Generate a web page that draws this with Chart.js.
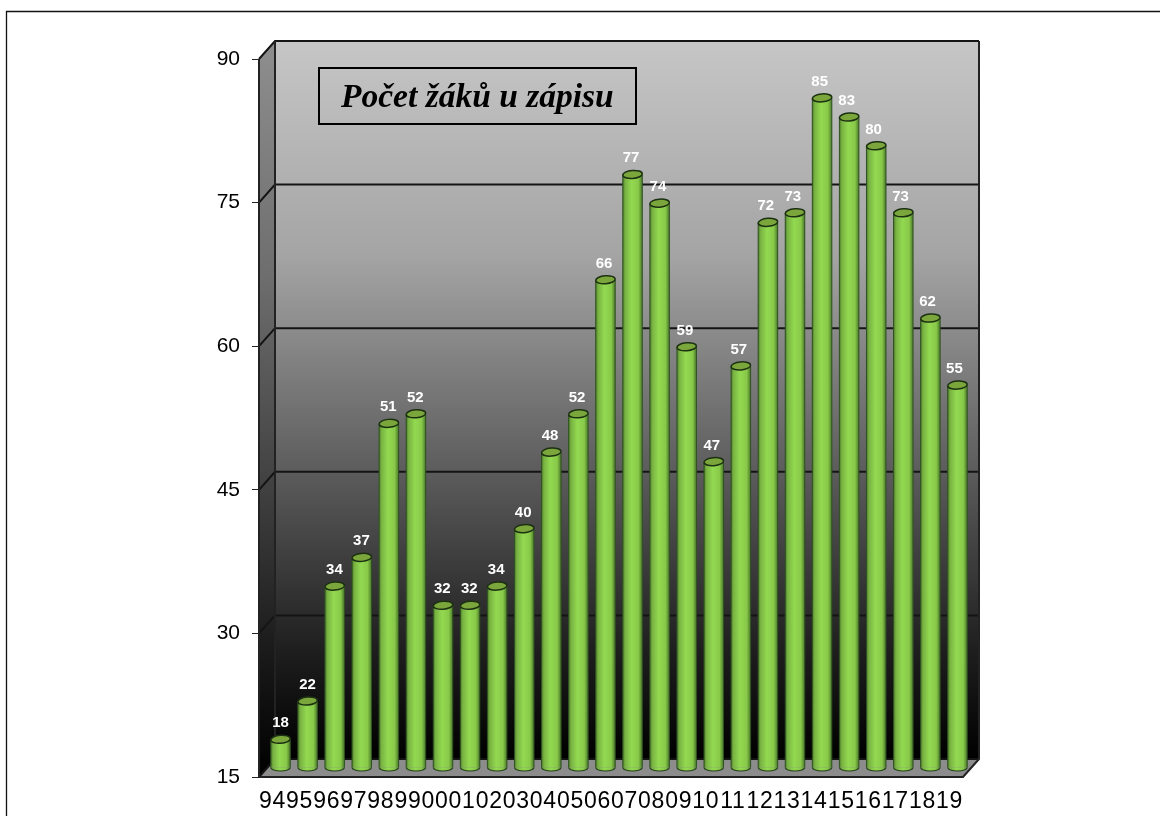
<!DOCTYPE html>
<html>
<head>
<meta charset="utf-8">
<title>Počet žáků u zápisu</title>
<script src="https://cdn.jsdelivr.net/npm/chart.js@4"></script>
<style>
html, body { margin: 0; padding: 0; background: #fff; }
canvas { display: block; }
</style>
</head>
<body>
<canvas id="chart" width="1160" height="816"></canvas>
<script>
const TITLE = 'Počet žáků u zápisu';
const YEARS = ['94', '95', '96', '97', '98', '99', '00', '01', '02', '03', '04', '05', '06',
               '07', '08', '09', '10', '11', '12', '13', '14', '15', '16', '17', '18', '19'];
const PUPILS = [18, 22, 34, 37, 51, 52, 32, 32, 34, 40, 48, 52, 66,
                77, 74, 59, 47, 57, 72, 73, 85, 83, 80, 73, 62, 55];
const Y_MIN = 15;
const Y_MAX = 90;
const Y_STEP = 15;

// hloubka 3D efektu
const DEPTH_X = 16;
const DEPTH_Y = 18;

function barGradient(ctx, x0, x1) {
    const g = ctx.createLinearGradient(x0, 0, x1, 0);
    g.addColorStop(0, '#4c7a2a');
    g.addColorStop(0.12, '#78b242');
    g.addColorStop(0.45, '#93d950');
    g.addColorStop(0.8, '#88c949');
    g.addColorStop(1, '#4a7829');
    return g;
}

const backdrop = {
    id: 'backdrop',
    beforeDatasetsDraw(chart) {
        const { ctx, chartArea: a, scales: { y } } = chart;
        const dx = DEPTH_X, dy = DEPTH_Y;
        ctx.save();

        // ramecek
        ctx.strokeStyle = '#111';
        ctx.lineWidth = 1.3;
        ctx.beginPath();
        ctx.moveTo(6.5, 816);
        ctx.lineTo(6.5, 11.5);
        ctx.lineTo(1160, 11.5);
        ctx.stroke();

        // zadni stena
        const wall = ctx.createLinearGradient(0, a.top - dy, 0, a.bottom - dy);
        wall.addColorStop(0, '#c6c6c6');
        wall.addColorStop(0.3, '#a4a4a4');
        wall.addColorStop(0.6, '#5c5c5c');
        wall.addColorStop(0.85, '#1e1e1e');
        wall.addColorStop(1, '#000');
        ctx.fillStyle = wall;
        ctx.fillRect(a.left + dx, a.top - dy, a.width, a.height);

        // bocni stena
        const side = ctx.createLinearGradient(0, a.top, 0, a.bottom);
        side.addColorStop(0, '#8c8c8c');
        side.addColorStop(0.3, '#6e6e6e');
        side.addColorStop(0.6, '#404040');
        side.addColorStop(0.85, '#161616');
        side.addColorStop(1, '#000');
        ctx.fillStyle = side;
        ctx.beginPath();
        ctx.moveTo(a.left, a.top);
        ctx.lineTo(a.left + dx, a.top - dy);
        ctx.lineTo(a.left + dx, a.bottom - dy);
        ctx.lineTo(a.left, a.bottom);
        ctx.closePath();
        ctx.fill();

        // podlaha
        ctx.fillStyle = '#8c8c8c';
        ctx.beginPath();
        ctx.moveTo(a.left, a.bottom);
        ctx.lineTo(a.left + dx, a.bottom - dy);
        ctx.lineTo(a.right + dx, a.bottom - dy);
        ctx.lineTo(a.right, a.bottom);
        ctx.closePath();
        ctx.fill();

        // mrizka
        ctx.strokeStyle = '#141414';
        ctx.lineWidth = 2;
        y.ticks.forEach(t => {
            const py = y.getPixelForValue(t.value);
            ctx.beginPath();
            ctx.moveTo(a.left, py);
            ctx.lineTo(a.left + dx, py - dy);
            ctx.lineTo(a.right + dx, py - dy);
            ctx.stroke();
        });

        // hrany
        ctx.strokeStyle = '#222';
        ctx.lineWidth = 2;
        ctx.beginPath();
        ctx.moveTo(a.left, a.bottom);
        ctx.lineTo(a.left, a.top);
        ctx.moveTo(a.left + dx, a.top - dy);
        ctx.lineTo(a.left + dx, a.bottom - dy);
        ctx.moveTo(a.right + dx, a.top - dy);
        ctx.lineTo(a.right + dx, a.bottom - dy);
        ctx.lineTo(a.right, a.bottom);
        ctx.lineTo(a.left, a.bottom);
        ctx.stroke();

        // nadpis
        ctx.strokeStyle = '#000';
        ctx.lineWidth = 2;
        ctx.strokeRect(319, 68, 317, 56);
        ctx.fillStyle = '#000';
        ctx.font = 'italic bold 33.5px "Liberation Serif", serif';
        ctx.textAlign = 'left';
        ctx.textBaseline = 'alphabetic';
        ctx.fillText(TITLE, 341, 107);
        ctx.restore();
    }
};

// valce: sloupce kresli Chart.js, posunute do poloviny hloubky
const cylinders = {
    id: 'cylinders',
    beforeDatasetDraw(chart, args) {
        const { ctx } = chart;
        ctx.save();
        ctx.translate(DEPTH_X / 2, -DEPTH_Y / 2);
        args.meta.data.forEach(bar => {
            const w = bar.width;
            ctx.fillStyle = barGradient(ctx, bar.x - w / 2, bar.x + w / 2);
            ctx.strokeStyle = '#24401a';
            ctx.lineWidth = 1.2;
            ctx.beginPath();
            ctx.ellipse(bar.x, bar.base, w / 2, 3.5, 0, 0, Math.PI);
            ctx.fill();
            ctx.stroke();
        });
    },
    afterDatasetDraw(chart, args) {
        const { ctx } = chart;
        args.meta.data.forEach((bar, i) => {
            const w = bar.width;
            ctx.strokeStyle = '#2f5220';
            ctx.lineWidth = 1;
            ctx.beginPath();
            ctx.moveTo(bar.x - w / 2, bar.y);
            ctx.lineTo(bar.x - w / 2, bar.base);
            ctx.moveTo(bar.x + w / 2, bar.y);
            ctx.lineTo(bar.x + w / 2, bar.base);
            ctx.stroke();

            ctx.fillStyle = '#7ba63c';
            ctx.strokeStyle = '#1c3012';
            ctx.lineWidth = 1.5;
            ctx.beginPath();
            ctx.ellipse(bar.x, bar.y, w / 2, 4, -0.08, 0, Math.PI * 2);
            ctx.fill();
            ctx.stroke();

            ctx.fillStyle = '#fff';
            ctx.font = 'bold 15px "Liberation Sans", Arial, sans-serif';
            ctx.textAlign = 'center';
            ctx.textBaseline = 'alphabetic';
            ctx.fillText(String(PUPILS[i]), bar.x - 3 * i / (PUPILS.length - 1), bar.y - 12);
        });
        ctx.restore();
    }
};

// popisky osy x jsou v predloze roztazene, cislice jdou rovnomerne za sebou
const xLabelSpacing = {
    id: 'xLabelSpacing',
    beforeDraw(chart) {
        const s = chart.scales.x;
        if (s.spaced) return;
        s.spaced = true;
        const drawLabels = s.drawLabels;
        s.drawLabels = function (area) {
            chart.ctx.letterSpacing = '0.7px';
            drawLabels.call(this, area);
            chart.ctx.letterSpacing = '0px';
        };
    }
};

new Chart(document.getElementById('chart'), {
    type: 'bar',
    data: {
        labels: YEARS,
        datasets: [{
            data: PUPILS,
            base: Y_MIN,
            backgroundColor: c => {
                const a = c.chart.chartArea;
                if (!a) return '#93d950';
                const w = a.width / YEARS.length * 0.72;
                const cx = c.chart.scales.x.getPixelForValue(c.dataIndex);
                return barGradient(c.chart.ctx, cx - w / 2, cx + w / 2);
            },
            borderWidth: 0,
            categoryPercentage: 1,
            barPercentage: 0.72
        }]
    },
    options: {
        responsive: false,
        animation: false,
        layout: { padding: { top: 59, right: 197, left: 0, bottom: 0 } },
        plugins: { legend: { display: false }, tooltip: { enabled: false }, title: { display: false } },
        scales: {
            x: {
                grid: { display: false },
                border: { display: false },
                afterFit: s => { s.height = 39; },
                ticks: {
                    color: '#000',
                    maxRotation: 0,
                    autoSkip: false,
                    padding: 3,
                    font: { family: '"Liberation Sans", Arial, sans-serif', size: 23 }
                }
            },
            y: {
                min: Y_MIN,
                max: Y_MAX,
                afterFit: s => { s.width = 259; },
                grid: { drawOnChartArea: false, drawTicks: true, tickLength: 7, tickColor: '#222' },
                border: { display: false },
                ticks: {
                    stepSize: Y_STEP,
                    color: '#000',
                    padding: 12,
                    font: { family: '"Liberation Sans", Arial, sans-serif', size: 21 }
                }
            }
        }
    },
    plugins: [backdrop, cylinders, xLabelSpacing]
});
</script>
</body>
</html>
